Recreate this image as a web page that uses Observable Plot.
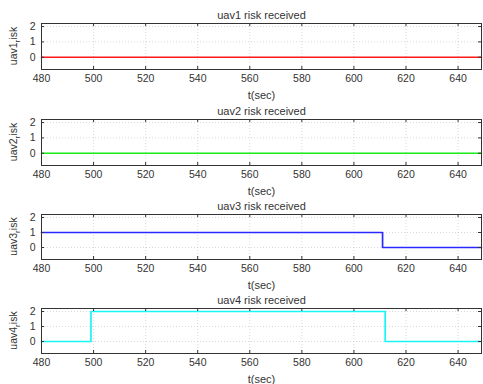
<!DOCTYPE html>
<html><head><meta charset="utf-8">
<script src="https://cdn.jsdelivr.net/npm/d3@7"></script>
<script src="https://cdn.jsdelivr.net/npm/@observablehq/plot@0.6"></script>
<style>
body{margin:0;background:#fff;width:483px;height:384px;position:relative;overflow:hidden}
.panel{position:absolute;left:0}
</style></head><body>
<script>
// ---- data ----
const uavNames = ["uav1", "uav2", "uav3", "uav4"];
const titles = ["uav1 risk received", "uav2 risk received", "uav3 risk received", "uav4 risk received"];
const uav1Time = [480, 649];
const uav1Risk = [0, 0];
const uav2Time = [480, 649];
const uav2Risk = [0, 0];
const uav3Time = [480, 611, 649];
const uav3Risk = [1, 0, 0];
const uav4Time = [480, 499, 612, 649];
const uav4Risk = [0, 2, 0, 0];
const xTicks = [480, 500, 520, 540, 560, 580, 600, 620, 640];
const yTicks = [0, 1, 2];
const xLabel = "t(sec)";

// ---- style / layout ----
const times = [uav1Time, uav2Time, uav3Time, uav4Time];
const risks = [uav1Risk, uav2Risk, uav3Risk, uav4Risk];
const colors = ["#ff1a1a", "#1aee1a", "#2a2aff", "#19f5f5"];
const panelTops = [23, 119, 214, 308];
const panelH = [46, 46, 45, 45];
const W = 483, ML = 41, MR = 2, MT = 23, MB = 31;
const xDomain = [480, 649];
const yDomain = [-0.8, 2.2];
const ink = "#333";

for (let i = 0; i < 4; i++) {
  const H = panelH[i];
  const data = times[i].map((t, j) => ({t, v: risks[i][j]}));
  const innerW = W - ML - MR;
  const svg = Plot.plot({
    width: W, height: MT + H + MB,
    marginLeft: ML, marginRight: MR, marginTop: MT, marginBottom: MB,
    style: {fontFamily: "'Liberation Sans', Arial, sans-serif", fontSize: "10.5px", color: ink, background: "transparent", overflow: "visible"},
    x: {domain: xDomain, label: null},
    y: {domain: yDomain, label: null},
    marks: [
      Plot.gridX(xTicks, {stroke: "#aaa", strokeOpacity: 0.45, strokeDasharray: "1,2"}),
      Plot.gridY(yTicks, {stroke: "#aaa", strokeOpacity: 0.45, strokeDasharray: "1,2"}),
      Plot.line(data, {x: "t", y: "v", curve: "step-after", stroke: colors[i], strokeWidth: 1.7}),
      Plot.tickX(xTicks, {x: d => d, insetTop: H - 3, stroke: ink}),
      Plot.tickX(xTicks, {x: d => d, insetBottom: H - 3, stroke: ink}),
      Plot.tickY(yTicks, {y: d => d, insetRight: innerW - 3, stroke: ink}),
      Plot.tickY(yTicks, {y: d => d, insetLeft: innerW - 3, stroke: ink}),
      Plot.axisX(xTicks, {anchor: "bottom", tickSize: 0, tickPadding: 5, label: null, tickFormat: d => d, letterSpacing: "0.4px"}),
      Plot.axisY(yTicks, {anchor: "left", tickSize: 0, tickPadding: 6, label: null, tickFormat: d => d}),
      Plot.frame({stroke: ink}),
      Plot.text([titles[i]], {text: d => d, frameAnchor: "top", lineAnchor: "middle", dy: -8, fontSize: 11, letterSpacing: "0.5px", fill: ink}),
      Plot.text([xLabel], {text: d => d, frameAnchor: "bottom", lineAnchor: "middle", dy: 26, fontSize: 11, letterSpacing: "0.5px", fill: ink})
    ]
  });
  const lab = d3.select(svg).append("text")
    .attr("transform", `translate(17,${MT + H / 2}) rotate(-90)`)
    .attr("text-anchor", "middle")
    .attr("fill", ink)
    .attr("font-size", "10.5px");
  lab.append("tspan").text(uavNames[i]);
  lab.append("tspan").attr("dy", 3).attr("font-size", "8px").text("r");
  lab.append("tspan").attr("dy", -3).text("isk");
  const div = document.createElement("div");
  div.className = "panel";
  div.style.top = (panelTops[i] - MT) + "px";
  div.appendChild(svg);
  document.body.appendChild(div);
}
</script>
</body></html>
